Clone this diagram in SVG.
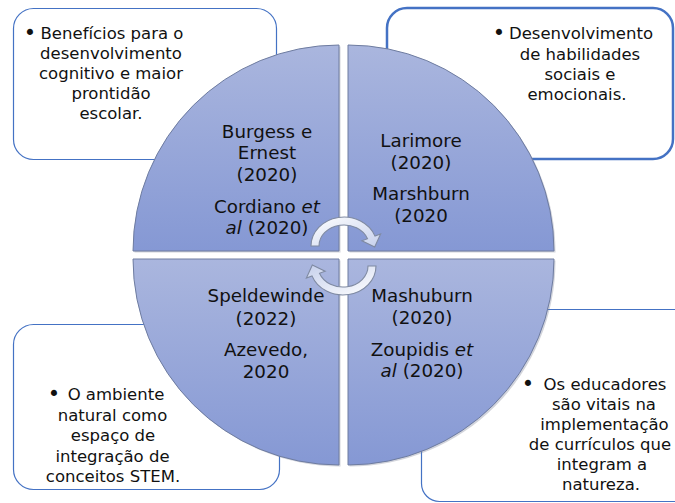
<svg xmlns="http://www.w3.org/2000/svg" width="675" height="503" viewBox="0 0 675 503">
<defs>
<linearGradient id="qg" x1="0" y1="0" x2="0" y2="1">
<stop offset="0" stop-color="#aab6de"/>
<stop offset="1" stop-color="#8598d4"/>
</linearGradient>
<linearGradient id="ag" x1="0" y1="0" x2="1" y2="1">
<stop offset="0" stop-color="#ffffff"/>
<stop offset="1" stop-color="#c6d0ec"/>
</linearGradient>
<style>
.box{fill:#ffffff;stroke:#4472c4;stroke-width:1.2}
.quad{fill:url(#qg);stroke:#6e7ca0;stroke-width:1}
.shadow{fill:#7d8597;opacity:0.35}
.t{font-family:"DejaVu Sans","Verdana",sans-serif;font-size:16.5px;fill:#111111;text-anchor:middle}
.b{font-family:"DejaVu Sans","Verdana",sans-serif;font-size:21px;fill:#111111;text-anchor:middle}
.q{font-family:"DejaVu Sans","Verdana",sans-serif;font-size:18.3px;fill:#111111;text-anchor:middle}
.i{font-style:italic}
.arrow{fill:url(#ag);stroke:#7f8aa2;stroke-width:1.1}
</style>
</defs>
<rect width="675" height="503" fill="#ffffff"/>

<g id="box-tl">
<rect class="box" x="13.5" y="8.5" width="263" height="151" rx="20"/>
<text class="b" x="30" y="40">•</text>
<text class="t"><tspan x="112" y="39">Benefícios para o</tspan><tspan x="111" y="59">desenvolvimento</tspan><tspan x="111" y="79">cognitivo e maior</tspan><tspan x="111" y="99">prontidão</tspan><tspan x="111" y="119">escolar.</tspan></text>
</g>

<g id="box-tr">
<rect x="387" y="8" width="286" height="151" rx="20" fill="#ffffff" stroke="#4472c4" stroke-width="2.5"/>
<text class="b" x="499" y="40">•</text>
<text class="t"><tspan x="581" y="39">Desenvolvimento</tspan><tspan x="580" y="59.5">de habilidades</tspan><tspan x="580" y="80">sociais e</tspan><tspan x="577" y="100">emocionais.</tspan></text>
</g>

<g id="box-bl">
<rect class="box" x="13.5" y="324.5" width="266" height="165" rx="20"/>
<text class="b" x="54" y="401">•</text>
<text class="t"><tspan x="116" y="400">O ambiente</tspan><tspan x="112.5" y="420.5">natural como</tspan><tspan x="113" y="441">espaço de</tspan><tspan x="112.5" y="461.5">integração de</tspan><tspan x="113" y="482">conceitos STEM.</tspan></text>
</g>

<g id="box-br">
<rect class="box" x="421.5" y="309.5" width="300" height="192" rx="18"/>
</g>

<g id="quad-tl">
<path class="shadow" d="M340.5,252.5 L134.5,252.5 A206,206 0 0 1 340.5,46.5 Z"/>
<path class="quad" d="M339,251 L133,251 A206,206 0 0 1 339,45 Z"/>
<text class="q"><tspan x="267" y="137.5">Burgess e</tspan><tspan x="267" y="159">Ernest</tspan><tspan x="267" y="180.5">(2020)</tspan><tspan x="267" y="213">Cordiano <tspan class="i">et</tspan></tspan><tspan x="267" y="234"><tspan class="i">al</tspan> (2020)</tspan></text>
</g>

<g id="quad-tr">
<path class="shadow" d="M349.5,252.5 L349.5,46.5 A206,206 0 0 1 555.5,252.5 Z"/>
<path class="quad" d="M348,251 L348,45 A206,206 0 0 1 554,251 Z"/>
<text class="q"><tspan x="421" y="147">Larimore</tspan><tspan x="421" y="168.5">(2020)</tspan><tspan x="421" y="200">Marshburn</tspan><tspan x="421" y="221.5">(2020</tspan></text>
</g>

<g id="quad-bl">
<path class="shadow" d="M340.5,260.5 L340.5,466.5 A206,206 0 0 1 134.5,260.5 Z"/>
<path class="quad" d="M339,259 L339,465 A206,206 0 0 1 133,259 Z"/>
<text class="q"><tspan x="266" y="302">Speldewinde</tspan><tspan x="266" y="325">(2022)</tspan><tspan x="266" y="356">Azevedo,</tspan><tspan x="266" y="377.5">2020</tspan></text>
</g>

<g id="quad-br">
<path class="shadow" d="M349.5,260.5 L555.5,260.5 A206,206 0 0 1 349.5,466.5 Z"/>
<path class="quad" d="M348,259 L554,259 A206,206 0 0 1 348,465 Z"/>
<text class="q"><tspan x="422" y="302">Mashuburn</tspan><tspan x="422" y="324">(2020)</tspan><tspan x="422" y="356">Zoupidis <tspan class="i">et</tspan></tspan><tspan x="422" y="376.5"><tspan class="i">al</tspan> (2020)</tspan></text>
</g>

<g id="box-br-text">
<text class="b" x="528" y="391">•</text>
<text class="t"><tspan x="605" y="390">Os educadores</tspan><tspan x="604" y="410">são vitais na</tspan><tspan x="604.5" y="430">implementação</tspan><tspan x="600" y="450">de currículos que</tspan><tspan x="602" y="470">integram a</tspan><tspan x="601" y="490">natureza.</tspan></text>
</g>

<g id="connectors">
<path class="arrow" d="M311,246 A33,29 0 0 1 375,236.1 L380.6,234 L374.7,246.9 L361.9,240.8 L367.5,238.8 A25,21 0 0 0 319,246 Z"/>
<path class="arrow" transform="rotate(180 343.5 256)" d="M311,246 A33,29 0 0 1 375,236.1 L380.6,234 L374.7,246.9 L361.9,240.8 L367.5,238.8 A25,21 0 0 0 319,246 Z"/>
</g>
</svg>
